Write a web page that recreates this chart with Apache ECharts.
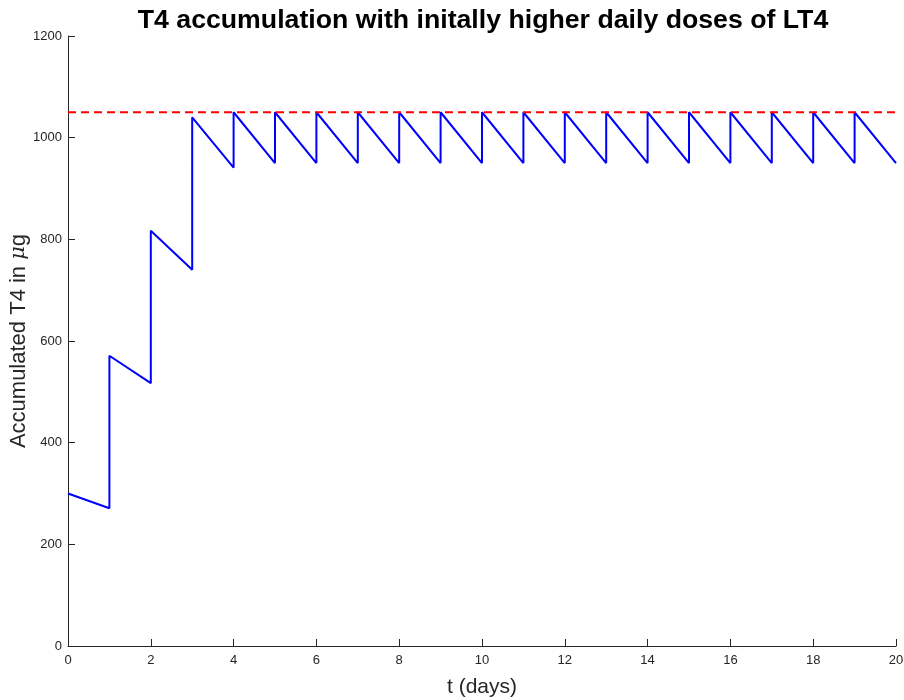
<!DOCTYPE html>
<html>
<head>
<meta charset="utf-8">
<script src="https://cdn.jsdelivr.net/npm/echarts@6/dist/echarts.min.js"></script>
<style>
  html, body { margin: 0; padding: 0; background: #fff; }
  #chart { width: 904px; height: 700px; }
</style>
</head>
<body>
<div id="chart"></div>
<script>
// Time points (days); each dose day appears twice for the instantaneous jump
const tDays = [0, 1, 1, 2, 2, 3, 3, 4, 4, 5, 5, 6, 6, 7, 7, 8, 8, 9, 9, 10, 10,
  11, 11, 12, 12, 13, 13, 14, 14, 15, 15, 16, 16, 17, 17, 18, 18, 19, 19, 20];
// Accumulated T4 (µg) at each time point
const t4Amount = [300, 271, 571, 517, 817, 740, 1040, 941, 1050, 950, 1050, 950, 1050, 950,
  1050, 950, 1050, 950, 1050, 950, 1050, 950, 1050, 950, 1050, 950, 1050, 950, 1050, 950,
  1050, 950, 1050, 950, 1050, 950, 1050, 950, 1050, 950];
// Upper reference level (µg)
const limitT = [0, 20];
const limitLevel = [1050, 1050];
const yTicks = [0, 200, 400, 600, 800, 1000, 1200];
const xTicks = [0, 2, 4, 6, 8, 10, 12, 14, 16, 18, 20];

const axisColor = '#262626';
const font = 'Liberation Sans, Arial, Helvetica, sans-serif';

const chart = echarts.init(document.getElementById('chart'), null, { renderer: 'canvas' });
chart.setOption({
  backgroundColor: '#ffffff',
  animation: false,
  title: {
    text: 'T4 accumulation with initally higher daily doses of LT4',
    left: 478,
    top: 2,
    textAlign: 'center',
    textStyle: { fontFamily: font, fontWeight: 'bold', fontSize: 26.7, color: '#000' }
  },
  grid: { left: 68, right: 8, top: 36, bottom: 54, containLabel: false, outerBoundsMode: 'none' },
  xAxis: {
    type: 'value',
    min: xTicks[0],
    max: xTicks[xTicks.length - 1],
    interval: 2,
    name: 't (days)',
    nameLocation: 'middle',
    nameGap: 31,
    nameMoveOverlap: false,
    nameTextStyle: { fontFamily: font, fontSize: 21, color: axisColor },
    axisLine: { show: true, lineStyle: { color: axisColor, width: 1 } },
    axisTick: { show: true, inside: true, length: 7, lineStyle: { color: axisColor } },
    axisLabel: { fontFamily: font, fontSize: 13, color: axisColor, margin: 8, formatter: v => String(v) },
    splitLine: { show: false }
  },
  yAxis: {
    type: 'value',
    min: yTicks[0],
    max: yTicks[yTicks.length - 1],
    interval: 200,
    name: '{a|Accumulated T4 in }{i|μ}{a|g}',
    nameLocation: 'middle',
    nameGap: 38,
    nameMoveOverlap: false,
    nameRotate: 90,
    nameTextStyle: {
      rich: {
        a: { fontFamily: font, fontSize: 22, color: axisColor },
        i: { fontFamily: 'DejaVu Serif, serif', fontStyle: 'italic', fontSize: 21, color: axisColor }
      }
    },
    axisLine: { show: true, lineStyle: { color: axisColor, width: 1 } },
    axisTick: { show: true, inside: true, length: 7, lineStyle: { color: axisColor } },
    axisLabel: { fontFamily: font, fontSize: 13, color: axisColor, margin: 6, formatter: v => String(v) },
    splitLine: { show: false }
  },
  series: [
    {
      name: 'T4',
      type: 'line',
      data: tDays.map((t, i) => [t, t4Amount[i]]),
      showSymbol: false,
      lineStyle: { color: '#0000ff', width: 2 },
      z: 3
    },
    {
      name: 'limit',
      type: 'line',
      data: limitT.map((t, i) => [t, limitLevel[i]]),
      showSymbol: false,
      lineStyle: { color: '#ff0000', width: 2, type: [8, 5] },
      z: 4
    }
  ]
});
</script>
</body>
</html>
